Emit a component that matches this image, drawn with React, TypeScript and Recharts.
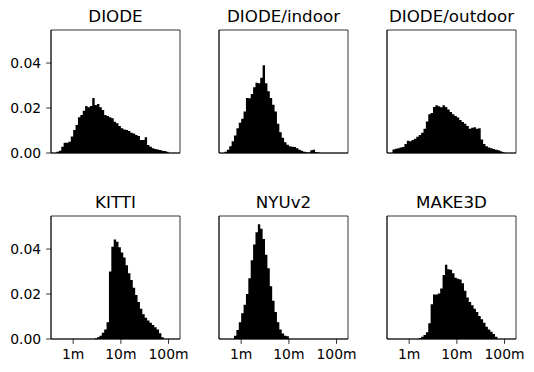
import { AreaChart, Area, XAxis, YAxis, ReferenceArea } from "recharts";

// histogram bins: log10(depth in m), 49 bins of 0.05 decades
const BIN_START = -0.35;
const BIN_WIDTH = 0.05;

const TITLES = ["DIODE", "DIODE/indoor", "DIODE/outdoor", "KITTI", "NYUv2", "MAKE3D"];

const DIODE = [
  0.0006, 0.001, 0.0028, 0.0046, 0.0046, 0.005, 0.0073, 0.0102, 0.0124, 0.0159,
  0.0169, 0.0188, 0.0209, 0.0203, 0.0209, 0.0245, 0.0213, 0.0218, 0.0203, 0.0191,
  0.0169, 0.0164, 0.0159, 0.0154, 0.0139, 0.0132, 0.012, 0.011, 0.0105, 0.0102,
  0.0098, 0.009, 0.0087, 0.008, 0.0076, 0.0058, 0.0058, 0.007, 0.0036, 0.0028,
  0.0021, 0.0018, 0.0016, 0.0013, 0.001, 0.0009, 0.0006, 0, 0,
];
const DIODE_INDOOR = [
  0.0006, 0.0015, 0.003, 0.0052, 0.0078, 0.011, 0.0135, 0.0152, 0.0185, 0.0245,
  0.0243, 0.0262, 0.0292, 0.0312, 0.031, 0.0335, 0.039, 0.031, 0.0275, 0.0245,
  0.0215, 0.0185, 0.013, 0.0092, 0.0068, 0.0048, 0.0037, 0.003, 0.0028, 0.0027,
  0.0021, 0.0015, 0.001, 0.0006, 0.0003, 0.0002, 0.0012, 0.0015, 0.0005, 0.0002,
  0, 0, 0, 0, 0, 0, 0, 0, 0,
];
const DIODE_OUTDOOR = [
  0.0016, 0.0019, 0.0021, 0.0024, 0.0027, 0.004, 0.0055, 0.0052, 0.0058, 0.0063,
  0.0072, 0.008, 0.009, 0.0108, 0.014, 0.0172, 0.0178, 0.0205, 0.0212, 0.0208,
  0.0203, 0.0212, 0.0205, 0.0193, 0.0182, 0.0172, 0.0165, 0.0158, 0.0147, 0.0138,
  0.013, 0.012, 0.0108, 0.0112, 0.0115, 0.0108, 0.011, 0.006, 0.004, 0.003,
  0.0025, 0.0021, 0.0018, 0.0015, 0.0012, 0.0008, 0.0003, 0, 0,
];
const KITTI = [
  0, 0, 0, 0, 0, 0, 0, 0, 0, 0,
  0, 0, 0, 0, 0, 0, 0.0003, 0.0008, 0.0015, 0.0028,
  0.0042, 0.0075, 0.03, 0.041, 0.0442, 0.0432, 0.0408, 0.0385, 0.0362, 0.0328,
  0.0292, 0.0262, 0.0228, 0.0196, 0.0165, 0.0135, 0.011, 0.0095, 0.0082, 0.0072,
  0.0062, 0.0052, 0.0042, 0.0026, 0.0008, 0, 0, 0, 0,
];
const NYUV2 = [
  0, 0, 0, 0, 0.0015, 0.004, 0.0075, 0.0115, 0.0152, 0.02,
  0.027, 0.035, 0.042, 0.0475, 0.051, 0.049, 0.0445, 0.0375, 0.0315, 0.0235,
  0.017, 0.012, 0.0075, 0.0042, 0.0024, 0.0014, 0.0012, 0, 0, 0,
  0, 0, 0, 0, 0, 0, 0, 0, 0, 0,
  0, 0, 0, 0, 0, 0, 0, 0, 0,
];
const MAKE3D = [
  0, 0, 0, 0, 0, 0, 0, 0, 0, 0,
  0, 0.0004, 0.001, 0.0018, 0.003, 0.007, 0.0155, 0.0198, 0.0198, 0.0202,
  0.0225, 0.0285, 0.033, 0.031, 0.0308, 0.0292, 0.0272, 0.0268, 0.0265, 0.0248,
  0.0215, 0.0185, 0.0165, 0.015, 0.0135, 0.012, 0.0102, 0.0088, 0.0072, 0.0055,
  0.0042, 0.0032, 0.0022, 0.001, 0, 0, 0, 0, 0,
];

const X_TICKS = [0, 1, 2];
const X_TICK_LABELS = ["1m", "10m", "100m"];
const Y_TICKS = [0, 0.02, 0.04];

const X_DOMAIN: [number, number] = [-0.465, 2.24];
const Y_DOMAIN: [number, number] = [0, 0.0547];

const COLS = [51, 219, 387];
const ROWS = [30, 216];
const PLOT_W = 129;
const PLOT_H = 123;
const FONT = "DejaVu Sans, sans-serif";

const SERIES = [DIODE, DIODE_INDOOR, DIODE_OUTDOOR, KITTI, NYUV2, MAKE3D];

function toSteps(values: number[]) {
  const pts = values.map((v, i) => ({ x: BIN_START + BIN_WIDTH * i, v }));
  pts.push({ x: BIN_START + BIN_WIDTH * values.length, v: 0 });
  return pts;
}

type PanelProps = {
  values: number[];
  left: number;
  top: number;
  showX: boolean;
  showY: boolean;
};

function Panel({ values, left, top, showX, showY }: PanelProps) {
  const ML = 50;
  const MT = 10;
  return (
    <div style={{ position: "absolute", left: left - ML, top: top - MT }}>
      <AreaChart
        width={PLOT_W + ML + 10}
        height={PLOT_H + MT + 30}
        data={toSteps(values)}
        margin={{ top: MT, right: 10, bottom: 0, left: 0 }}
      >
        <XAxis
          type="number"
          dataKey="x"
          domain={X_DOMAIN}
          allowDataOverflow
          ticks={X_TICKS}
          interval={0}
          height={30}
          tickSize={4.9}
          tickMargin={5}
          tickFormatter={(v) => X_TICK_LABELS[X_TICKS.indexOf(v)] ?? ""}
          tick={showX ? { fill: "#000", fontSize: 13.9, fontFamily: FONT } : false}
          axisLine={{ stroke: "#000", strokeWidth: 0.8 }}
          tickLine={{ stroke: "#000", strokeWidth: 0.8 }}
        />
        <YAxis
          type="number"
          domain={Y_DOMAIN}
          allowDataOverflow
          ticks={Y_TICKS}
          interval={0}
          width={ML}
          tickSize={4.9}
          tickMargin={5}
          tickFormatter={(v: number) => v.toFixed(2)}
          tick={showY ? { fill: "#000", fontSize: 13.9, fontFamily: FONT } : false}
          axisLine={{ stroke: "#000", strokeWidth: 0.8 }}
          tickLine={{ stroke: "#000", strokeWidth: 0.8 }}
        />
        <Area
          type="stepAfter"
          dataKey="v"
          stroke="none"
          fill="#000"
          fillOpacity={1}
          isAnimationActive={false}
          dot={false}
          activeDot={false}
        />
        <ReferenceArea
          x1={X_DOMAIN[0]}
          x2={X_DOMAIN[1]}
          y1={Y_DOMAIN[0]}
          y2={Y_DOMAIN[1]}
          fill="none"
          fillOpacity={0}
          stroke="#000"
          strokeWidth={0.8}
          ifOverflow="visible"
        />
      </AreaChart>
    </div>
  );
}

export default function App() {
  return (
    <div
      style={{
        position: "absolute",
        left: 0,
        top: 0,
        width: 534,
        height: 372,
        background: "#fff",
        overflow: "hidden",
      }}
    >
      <svg width={534} height={372} style={{ position: "absolute", left: 0, top: 0 }}>
        {TITLES.map((t, i) => (
          <text
            key={t}
            x={COLS[i % 3] + PLOT_W / 2}
            y={ROWS[Math.floor(i / 3)] - 8}
            textAnchor="middle"
            fontFamily={FONT}
            fontSize={16.7}
            fill="#000"
          >
            {t}
          </text>
        ))}
      </svg>
      {SERIES.map((s, i) => (
        <Panel
          key={TITLES[i]}
          values={s}
          left={COLS[i % 3]}
          top={ROWS[Math.floor(i / 3)]}
          showX={i >= 3}
          showY={i % 3 === 0}
        />
      ))}
    </div>
  );
}
